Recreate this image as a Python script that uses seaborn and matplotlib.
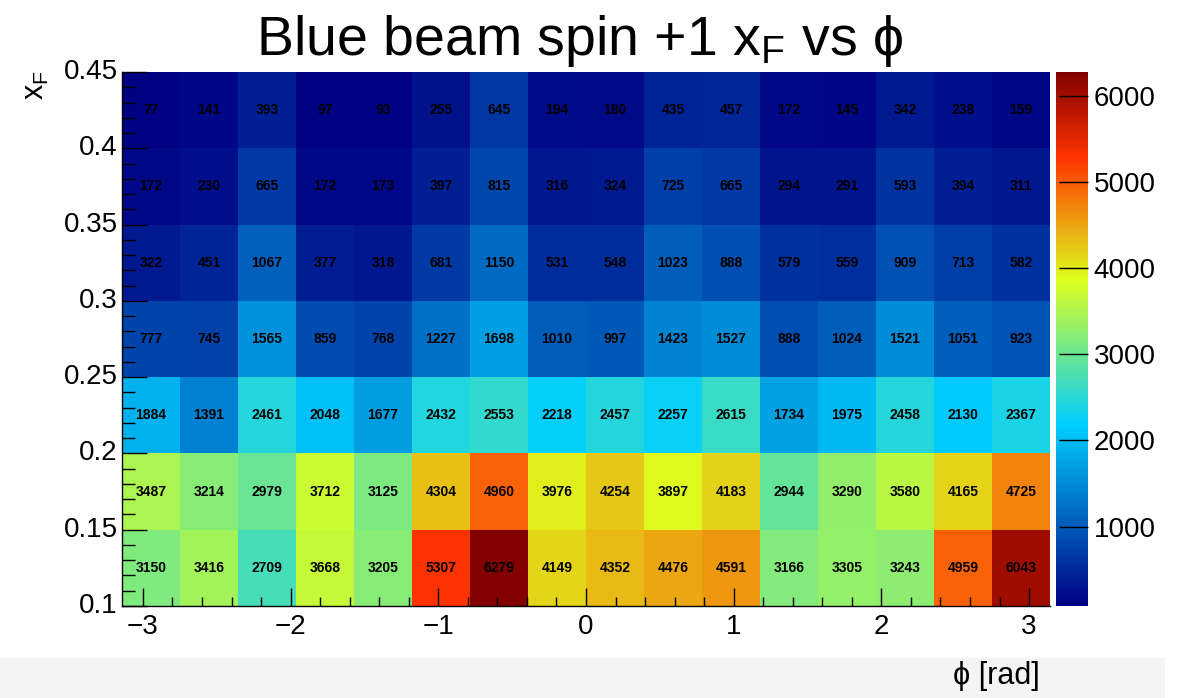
import numpy as np
import pandas as pd
import matplotlib
matplotlib.use("Agg")
import matplotlib.pyplot as plt
import seaborn as sns
from matplotlib.colors import LinearSegmentedColormap
from matplotlib.ticker import FixedLocator
from matplotlib.patches import Rectangle

# ---- data (rows listed from top xF bin to bottom) ----
xf_edges = [0.45, 0.40, 0.35, 0.30, 0.25, 0.20, 0.15, 0.10]
phi_bins = 16
row_045_040 = [77, 141, 393, 97, 93, 255, 645, 194, 180, 435, 457, 172, 145, 342, 238, 159]
row_040_035 = [172, 230, 665, 172, 173, 397, 815, 316, 324, 725, 665, 294, 291, 593, 394, 311]
row_035_030 = [322, 451, 1067, 377, 318, 681, 1150, 531, 548, 1023, 888, 579, 559, 909, 713, 582]
row_030_025 = [777, 745, 1565, 859, 768, 1227, 1698, 1010, 997, 1423, 1527, 888, 1024, 1521, 1051, 923]
row_025_020 = [1884, 1391, 2461, 2048, 1677, 2432, 2553, 2218, 2457, 2257, 2615, 1734, 1975, 2458, 2130, 2367]
row_020_015 = [3487, 3214, 2979, 3712, 3125, 4304, 4960, 3976, 4254, 3897, 4183, 2944, 3290, 3580, 4165, 4725]
row_015_010 = [3150, 3416, 2709, 3668, 3205, 5307, 6279, 4149, 4352, 4476, 4591, 3166, 3305, 3243, 4959, 6043]
x_major = [-3, -2, -1, 0, 1, 2, 3]
x_labels = ["\u22123", "\u22122", "\u22121", "0", "1", "2", "3"]
y_major = [0.45, 0.40, 0.35, 0.30, 0.25, 0.20, 0.15, 0.10]
y_labels = ["0.45", "0.4", "0.35", "0.3", "0.25", "0.2", "0.15", "0.1"]
cbar_ticks = [1000, 2000, 3000, 4000, 5000, 6000]

rows = [row_045_040, row_040_035, row_035_030, row_030_025,
        row_025_020, row_020_015, row_015_010]
df = pd.DataFrame(rows)

sns.set_style("ticks")
plt.rcParams["font.family"] = ["Liberation Sans", "DejaVu Sans"]
plt.rcParams["mathtext.fontset"] = "custom"
plt.rcParams["mathtext.rm"] = "Liberation Sans"
plt.rcParams["mathtext.it"] = "Liberation Sans"
plt.rcParams["text.color"] = "black"
plt.rcParams["xtick.color"] = "black"
plt.rcParams["ytick.color"] = "black"
plt.rcParams["axes.labelcolor"] = "black"
plt.rcParams["axes.axisbelow"] = False

# ROOT-like rainbow palette
stops = [0.00, 0.34, 0.61, 0.84, 1.00]
reds = [0.00, 0.00, 0.87, 1.00, 0.51]
greens = [0.00, 0.81, 1.00, 0.20, 0.00]
blues = [0.51, 1.00, 0.12, 0.00, 0.00]
cmap = LinearSegmentedColormap.from_list(
    "rootrainbow", [(s, (r, g, b)) for s, r, g, b in zip(stops, reds, greens, blues)], N=512)

W, H = 1192, 698
fig = plt.figure(figsize=(W / 100, H / 100), dpi=100)
fig.patches.append(Rectangle((0, 0), 1165 / W, 40 / H, transform=fig.transFigure,
                             facecolor="#f4f4f4", edgecolor="none", zorder=0))

ax = fig.add_axes([122 / W, 1 - 606 / H, 928 / W, 534 / H])
cax = fig.add_axes([1056 / W, 1 - 606 / H, 32 / W, 534 / H])

vmin = float(np.min(rows))
vmax = float(np.max(rows))
sns.heatmap(df, ax=ax, cbar_ax=cax, cmap=cmap, vmin=vmin, vmax=vmax,
            annot=True, fmt="d", linewidths=0,
            annot_kws={"fontsize": 10, "fontweight": "bold", "color": "black"})
ax.set_axisbelow(False)
cax.set_axisbelow(False)

# map continuous coordinates onto heatmap cell coordinates
def phi_pos(p):
    return (np.asarray(p) + np.pi) / (2 * np.pi) * phi_bins

def xf_pos(v):
    return (xf_edges[0] - np.asarray(v)) / 0.05

ax.set_xticks(phi_pos(x_major))
ax.set_xticklabels(x_labels, fontsize=20, rotation=0)
minor_phi = [k * 0.2 for k in range(-15, 16) if abs(k * 0.2 - round(k * 0.2)) > 1e-6]
ax.xaxis.set_minor_locator(FixedLocator(phi_pos(minor_phi)))
ax.set_yticks(xf_pos(y_major))
ax.set_yticklabels(y_labels, fontsize=20, rotation=0)
minor_xf = [0.10 + 0.01 * k for k in range(36) if k % 5 != 0]
ax.yaxis.set_minor_locator(FixedLocator(xf_pos(minor_xf)))

ax.tick_params(axis="both", which="both", direction="in", top=False, right=False,
               color="black", width=1, labelcolor="black")
ax.tick_params(axis="x", which="major", length=13, pad=6)
ax.tick_params(axis="x", which="minor", length=6.5)
ax.tick_params(axis="y", which="major", length=18, pad=3)
ax.tick_params(axis="y", which="minor", length=9)
for s in ["left", "bottom"]:
    ax.spines[s].set_visible(True)
    ax.spines[s].set_color("black")
    ax.spines[s].set_linewidth(1)
ax.set_xlabel("")
ax.set_ylabel("")

cax.tick_params(direction="in", length=21, width=1, color="black", labelcolor="black",
                labelsize=20, pad=4)
cax.set_yticks(cbar_ticks)
cax.set_yticklabels([str(t) for t in cbar_ticks])

fig.text(580 / W, 1 - 55 / H, "Blue beam spin +1 $\\mathregular{x_{F}}$ vs \u03d5",
         ha="center", va="baseline", fontsize=40, color="black")
fig.text(36 / W, 1 - 70 / H, "$\\mathregular{x_{F}}$", rotation=90,
         ha="center", va="top", fontsize=22, color="black")
fig.text(1040 / W, 1 - 676 / H, "\u03d5 [rad]", ha="right", va="center", fontsize=22,
         color="black")

fig.savefig("out.png", dpi=100)
